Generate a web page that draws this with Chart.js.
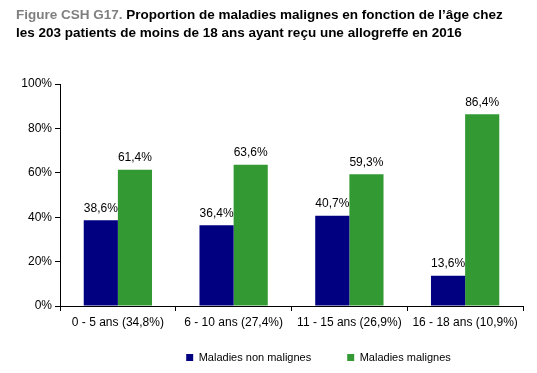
<!DOCTYPE html>
<html>
<head>
<meta charset="utf-8">
<script src="https://cdn.jsdelivr.net/npm/chart.js@4"></script>
<style>
  body { margin: 0; background: #fff; }
  #wrap { position: relative; width: 537px; height: 373px; }
  #titre {
    position: absolute; left: 16px; top: 6px; width: 521px; white-space: nowrap;
    font: bold 13.5px "Liberation Sans", Arial, sans-serif; line-height: 18px; color: #000;
  }
  #titre span { color: #7f7f7f; }
  canvas { position: absolute; left: 0; top: 0; }
</style>
</head>
<body>
<div id="wrap">
  <canvas id="graph" width="537" height="373"></canvas>
  <div id="titre"><span>Figure CSH G17.</span> Proportion de maladies malignes en fonction de l’âge chez<br>les 203 patients de moins de 18 ans ayant reçu une allogreffe en 2016</div>
</div>
<script>
// Données
const categories = ['0 - 5 ans (34,8%)', '6 - 10 ans (27,4%)', '11 - 15 ans (26,9%)', '16 - 18 ans (10,9%)'];
const nonMalignes = [38.6, 36.4, 40.7, 13.6];
const malignes = [61.4, 63.6, 59.3, 86.4];
const yTicks = [0, 20, 40, 60, 80, 100];

const police = '"Liberation Sans", Arial, sans-serif';

// Étiquettes au-dessus des barres
const etiquettes = {
  id: 'etiquettes',
  afterDatasetsDraw(chart) {
    const ctx = chart.ctx;
    ctx.save();
    ctx.font = '12px ' + police;
    ctx.fillStyle = '#000';
    ctx.textAlign = 'center';
    ctx.textBaseline = 'bottom';
    chart.data.datasets.forEach((ds, i) => {
      chart.getDatasetMeta(i).data.forEach((bar, j) => {
        const txt = ds.data[j].toFixed(1).replace('.', ',') + '%';
        ctx.fillText(txt, bar.x, bar.y - 6);
      });
    });
    ctx.restore();
  }
};

// Légende déplacée (à droite et un peu plus haut) comme dans Excel
const decalageLegende = {
  id: 'decalageLegende',
  afterLayout(chart) {
    const leg = chart.legend;
    if (leg) {
      leg.left += 57;
      leg.right += 57;
      leg.top -= 13;
      leg.bottom -= 13;
    }
  }
};

new Chart(document.getElementById('graph'), {
  type: 'bar',
  data: {
    labels: categories,
    datasets: [{
      label: 'Maladies non malignes',
      data: nonMalignes,
      backgroundColor: '#000080'
    }, {
      label: 'Maladies malignes',
      data: malignes,
      backgroundColor: '#339933'
    }]
  },
  options: {
    responsive: false,
    animation: false,
    layout: { padding: { top: 84, right: 14, left: 0, bottom: -13 } },
    datasets: {
      bar: { categoryPercentage: 0.59, barPercentage: 1 }
    },
    scales: {
      x: {
        grid: { drawOnChartArea: false, color: '#000', tickLength: 5, offset: true },
        border: { color: '#000' },
        ticks: { color: '#000', font: { size: 12, family: police }, maxRotation: 0, padding: 4 },
        afterFit: s => { s.height = 23; }
      },
      y: {
        min: 0,
        max: 100,
        grid: { drawOnChartArea: false, color: '#000', tickLength: 5 },
        border: { color: '#000' },
        afterBuildTicks: s => { s.ticks = yTicks.map(v => ({ value: v })); },
        ticks: {
          color: '#000',
          font: { size: 12, family: police },
          padding: 3,
          callback: v => v + '%'
        },
        afterFit: s => { s.width = 60; }
      }
    },
    plugins: {
      legend: {
        position: 'bottom',
        labels: {
          color: '#000',
          font: { size: 11, family: police },
          boxWidth: 7,
          boxHeight: 7,
          padding: 36
        }
      },
      tooltip: { enabled: false }
    }
  },
  plugins: [etiquettes, decalageLegende]
});
</script>
</body>
</html>
